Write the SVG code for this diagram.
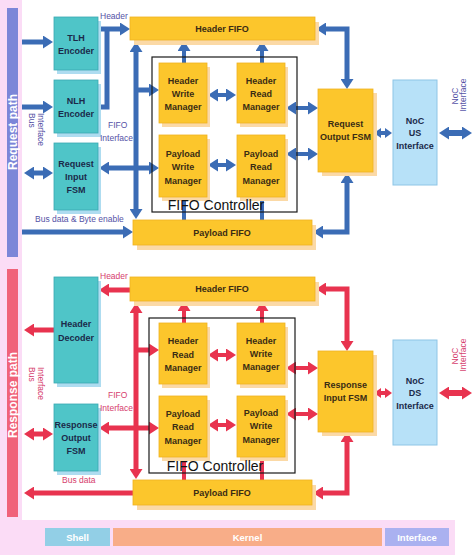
<svg xmlns="http://www.w3.org/2000/svg" width="474" height="555" viewBox="0 0 474 555">
<style>
.bg{fill:#ffffff}
.pink{fill:#fbdcf6}
.org{fill:#fcc62c;stroke:#efb222;stroke-width:0.8}
.osh{fill:#fbd9a6}
.teal{fill:#4fc5c8;stroke:#3aa9b2;stroke-width:0.8}
.tsh{fill:#aedcf0}
.noc{fill:#b7e1f8;stroke:#8ec5e6;stroke-width:1}
.ctrl{fill:none;stroke:#1a1a1a;stroke-width:1.2}
.t{font-family:"Liberation Sans Narrow","Liberation Sans",Arial,sans-serif;font-weight:bold;font-size:9px;fill:#3a2c14;text-anchor:middle}
.tb{fill:#1b2a4a}
.lb{font-family:"Liberation Sans Narrow","Liberation Sans",Arial,sans-serif;font-size:8.5px;fill:#5552a6}
.lr{font-family:"Liberation Sans Narrow","Liberation Sans",Arial,sans-serif;font-size:8.5px;fill:#d6406e}
.fc{font-family:"Liberation Sans",Arial,sans-serif;font-size:14px;fill:#111;text-anchor:middle}
.path{font-family:"Liberation Sans",Arial,sans-serif;font-weight:bold;font-size:12px;fill:#ffffff;text-anchor:middle}
.strip{font-family:"Liberation Sans Narrow","Liberation Sans",Arial,sans-serif;font-weight:bold;font-size:9.5px;fill:#ffffff;text-anchor:middle}
.cb{fill:none;stroke:#3b6cb5;stroke-width:5}
.cr{fill:none;stroke:#e8334f;stroke-width:5}
.th{stroke-width:4}
.bb{marker-end:url(#ab)}
.rr{marker-end:url(#ar)}
.bb2{marker-start:url(#ab);marker-end:url(#ab)}
.rr2{marker-start:url(#ar);marker-end:url(#ar)}
.bs2{marker-start:url(#abs);marker-end:url(#abs)}
.rs2{marker-start:url(#ars);marker-end:url(#ars)}
</style>
<defs>
<marker id="ab" viewBox="0 0 10 13" refX="1" refY="6.5" markerWidth="10" markerHeight="13" markerUnits="userSpaceOnUse" orient="auto-start-reverse"><path d="M0,0 L10,6.5 L0,13 z" fill="#3b6cb5"/></marker>
<marker id="ar" viewBox="0 0 10 13" refX="1" refY="6.5" markerWidth="10" markerHeight="13" markerUnits="userSpaceOnUse" orient="auto-start-reverse"><path d="M0,0 L10,6.5 L0,13 z" fill="#e8334f"/></marker>
<marker id="abs" viewBox="0 0 7 10" refX="1" refY="5" markerWidth="7" markerHeight="10" markerUnits="userSpaceOnUse" orient="auto-start-reverse"><path d="M0,0 L7,5 L0,10 z" fill="#3b6cb5"/></marker>
<marker id="ars" viewBox="0 0 7 10" refX="1" refY="5" markerWidth="7" markerHeight="10" markerUnits="userSpaceOnUse" orient="auto-start-reverse"><path d="M0,0 L7,5 L0,10 z" fill="#e8334f"/></marker>
</defs>
<rect class="bg" x="0" y="0" width="474" height="555"/>
<rect class="pink" x="0" y="0" width="22" height="555"/>
<rect class="pink" x="0" y="520" width="455" height="35"/>

<g id="request-path-bar">
<rect x="7" y="8" width="11" height="249" fill="#7c86d8"/>
<text class="path" transform="translate(16.5,132) rotate(-90)">Request path</text>
</g>
<g id="response-path-bar">
<rect x="7" y="269" width="11" height="248" fill="#f0627a"/>
<text class="path" transform="translate(16.5,395) rotate(-90)">Response path</text>
</g>
<g id="shell"><rect x="45" y="528" width="65" height="18" fill="#92cfe6"/><text class="strip" x="77.5" y="540.5">Shell</text></g>
<g id="kernel"><rect x="113" y="528" width="269" height="18" fill="#f8ad88"/><text class="strip" x="247.5" y="540.5">Kernel</text></g>
<g id="interface"><rect x="385" y="528" width="64" height="18" fill="#aab1f0"/><text class="strip" x="417" y="540.5">Interface</text></g>

<g id="connectors">
<!-- request (blue) -->
<path class="cb bb" d="M22,42 H44"/>
<path class="cb bb" d="M22,107 H44"/>
<path class="cb bb2" d="M33,173 H44"/>
<path class="cb bb" d="M98,29 H121"/>
<path class="cb" d="M98,107 H107 V29"/>
<path class="cb bb2" d="M136,51 V210"/>
<path class="cb bb" d="M136,90 H150"/>
<path class="cb bb2" d="M108,168 H150"/>
<path class="cb th bb" d="M184,63 V50"/>
<path class="cb th bb" d="M262,63 V50"/>
<path class="cb th" d="M184,197 V220"/>
<path class="cb th" d="M262,197 V220"/>
<path class="cb th bb2" d="M217,95 H227"/>
<path class="cb th bb2" d="M217,165 H227"/>
<path class="cb th bb2" d="M295,108 H309"/>
<path class="cb th bb2" d="M295,154 H309"/>
<path class="cb bb2" d="M325,29 H347 V80"/>
<path class="cb bb2" d="M347,182 V232 H322"/>
<path class="cb bb" d="M22,232 H124"/>
<path class="cb th bs2" d="M380,133 H386"/>
<path class="cb bb2" style="stroke-width:6" d="M448,133 H463"/>
<!-- response (red) -->
<path class="cr rr" d="M130,290 H108"/>
<path class="cr rr" d="M54,330 H33"/>
<path class="cr rr2" d="M33,434 H44"/>
<path class="cr rr2" d="M136,312 V470"/>
<path class="cr rr" d="M136,350 H150"/>
<path class="cr rr2" d="M108,428 H150"/>
<path class="cr th rr" d="M184,323 V310"/>
<path class="cr th rr" d="M262,323 V310"/>
<path class="cr th" d="M184,457 V480"/>
<path class="cr th" d="M262,457 V480"/>
<path class="cr th rr2" d="M217,355 H227"/>
<path class="cr th rr2" d="M217,425 H227"/>
<path class="cr th rr2" d="M295,368 H309"/>
<path class="cr th rr2" d="M295,414 H309"/>
<path class="cr rr2" d="M325,289 H347 V342"/>
<path class="cr rr2" d="M347,441 V493 H322"/>
<path class="cr rr" d="M133,493 H33"/>
<path class="cr th rs2" d="M380,393 H386"/>
<path class="cr rr2" style="stroke-width:6" d="M448,393 H463"/>
</g>

<!-- request nodes -->
<g id="tlh-encoder"><rect class="tsh" x="57" y="21" width="44" height="53"/><rect class="teal" x="54" y="17" width="44" height="53"/><text class="t tb" x="76" y="41">TLH</text><text class="t tb" x="76" y="54">Encoder</text></g>
<g id="nlh-encoder"><rect class="tsh" x="57" y="84" width="44" height="53"/><rect class="teal" x="54" y="80" width="44" height="53"/><text class="t tb" x="76" y="104">NLH</text><text class="t tb" x="76" y="117">Encoder</text></g>
<g id="request-input-fsm"><rect class="tsh" x="57" y="147" width="44" height="67"/><rect class="teal" x="54" y="143" width="44" height="67"/><text class="t tb" x="76" y="167">Request</text><text class="t tb" x="76" y="180">Input</text><text class="t tb" x="76" y="193">FSM</text></g>
<g id="header-fifo-req"><rect class="osh" x="134" y="22" width="185" height="23"/><rect class="org" x="130" y="17" width="185" height="23"/><text class="t" x="222" y="32">Header FIFO</text></g>
<g id="payload-fifo-req"><rect class="osh" x="137" y="225" width="179" height="25"/><rect class="org" x="133" y="220" width="179" height="25"/><text class="t" x="222" y="236">Payload FIFO</text></g>
<g id="fifo-controller-req"><rect class="ctrl" x="152" y="57" width="145" height="155"/></g>
<g id="header-write-manager"><rect class="osh" x="162" y="67" width="48" height="60"/><rect class="org" x="159" y="63" width="48" height="60"/><text class="t" x="183" y="84">Header</text><text class="t" x="183" y="97">Write</text><text class="t" x="183" y="110">Manager</text></g>
<g id="header-read-manager"><rect class="osh" x="240" y="67" width="48" height="60"/><rect class="org" x="237" y="63" width="48" height="60"/><text class="t" x="261" y="84">Header</text><text class="t" x="261" y="97">Read</text><text class="t" x="261" y="110">Manager</text></g>
<g id="payload-write-manager"><rect class="osh" x="162" y="139" width="48" height="62"/><rect class="org" x="159" y="135" width="48" height="62"/><text class="t" x="183" y="157">Payload</text><text class="t" x="183" y="170">Write</text><text class="t" x="183" y="184">Manager</text></g>
<g id="payload-read-manager"><rect class="osh" x="240" y="139" width="48" height="62"/><rect class="org" x="237" y="135" width="48" height="62"/><text class="t" x="261" y="157">Payload</text><text class="t" x="261" y="170">Read</text><text class="t" x="261" y="184">Manager</text></g>
<text class="fc" x="216" y="210">FIFO Controller</text>
<g id="request-output-fsm"><rect class="osh" x="322" y="93" width="55" height="83"/><rect class="org" x="318" y="89" width="55" height="83"/><text class="t" x="345.5" y="127">Request</text><text class="t" x="345.5" y="140">Output FSM</text></g>
<g id="noc-us-interface"><rect class="noc" x="393" y="80" width="44" height="105"/><text class="t tb" x="415" y="124">NoC</text><text class="t tb" x="415" y="136">US</text><text class="t tb" x="415" y="149">Interface</text></g>

<!-- request labels -->
<text class="lb" x="100" y="19">Header</text>
<text class="lb" x="108" y="128">FIFO</text>
<text class="lb" x="100" y="141">Interface</text>
<text class="lb" x="35" y="222">Bus data &amp; Byte enable</text>
<text class="lb" transform="translate(29,113) rotate(90)">Bus</text>
<text class="lb" transform="translate(38,113) rotate(90)">Interface</text>
<text class="lb" text-anchor="middle" transform="translate(458,96) rotate(-90)">NoC</text>
<text class="lb" text-anchor="middle" transform="translate(466,95) rotate(-90)">Interface</text>

<!-- response nodes -->
<g id="header-decoder"><rect class="tsh" x="57" y="281" width="44" height="106"/><rect class="teal" x="54" y="277" width="44" height="106"/><text class="t tb" x="76" y="327">Header</text><text class="t tb" x="76" y="341">Decoder</text></g>
<g id="response-output-fsm"><rect class="tsh" x="57" y="408" width="44" height="67"/><rect class="teal" x="54" y="404" width="44" height="67"/><text class="t tb" x="76" y="428">Response</text><text class="t tb" x="76" y="441">Output</text><text class="t tb" x="76" y="454">FSM</text></g>
<g id="header-fifo-resp"><rect class="osh" x="134" y="282" width="185" height="24"/><rect class="org" x="130" y="277" width="185" height="24"/><text class="t" x="222" y="292">Header FIFO</text></g>
<g id="payload-fifo-resp"><rect class="osh" x="137" y="485" width="179" height="25"/><rect class="org" x="133" y="480" width="179" height="25"/><text class="t" x="222" y="496">Payload FIFO</text></g>
<g id="fifo-controller-resp"><rect class="ctrl" x="149" y="318" width="146" height="155"/></g>
<g id="header-read-manager-resp"><rect class="osh" x="162" y="327" width="48" height="61"/><rect class="org" x="159" y="323" width="48" height="61"/><text class="t" x="183" y="344">Header</text><text class="t" x="183" y="358">Read</text><text class="t" x="183" y="371">Manager</text></g>
<g id="header-write-manager-resp"><rect class="osh" x="240" y="327" width="48" height="61"/><rect class="org" x="237" y="323" width="48" height="61"/><text class="t" x="261" y="344">Header</text><text class="t" x="261" y="357">Write</text><text class="t" x="261" y="370">Manager</text></g>
<g id="payload-read-manager-resp"><rect class="osh" x="162" y="400" width="48" height="61"/><rect class="org" x="159" y="396" width="48" height="61"/><text class="t" x="183" y="417">Payload</text><text class="t" x="183" y="430">Read</text><text class="t" x="183" y="444">Manager</text></g>
<g id="payload-write-manager-resp"><rect class="osh" x="240" y="400" width="48" height="61"/><rect class="org" x="237" y="396" width="48" height="61"/><text class="t" x="261" y="416">Payload</text><text class="t" x="261" y="429">Write</text><text class="t" x="261" y="443">Manager</text></g>
<text class="fc" x="215" y="471">FIFO Controller</text>
<g id="response-input-fsm"><rect class="osh" x="322" y="355" width="55" height="81"/><rect class="org" x="318" y="351" width="55" height="81"/><text class="t" x="345.5" y="388">Response</text><text class="t" x="345.5" y="401">Input FSM</text></g>
<g id="noc-ds-interface"><rect class="noc" x="393" y="340" width="44" height="105"/><text class="t tb" x="415" y="384">NoC</text><text class="t tb" x="415" y="396">DS</text><text class="t tb" x="415" y="409">Interface</text></g>

<!-- response labels -->
<text class="lr" x="100" y="279">Header</text>
<text class="lr" x="108" y="398">FIFO</text>
<text class="lr" x="100" y="411">Interface</text>
<text class="lr" x="62" y="483">Bus data</text>
<text class="lr" transform="translate(29,367) rotate(90)">Bus</text>
<text class="lr" transform="translate(38,367) rotate(90)">Interface</text>
<text class="lr" text-anchor="middle" transform="translate(458,356) rotate(-90)">NoC</text>
<text class="lr" text-anchor="middle" transform="translate(466,355) rotate(-90)">Interface</text>
</svg>
